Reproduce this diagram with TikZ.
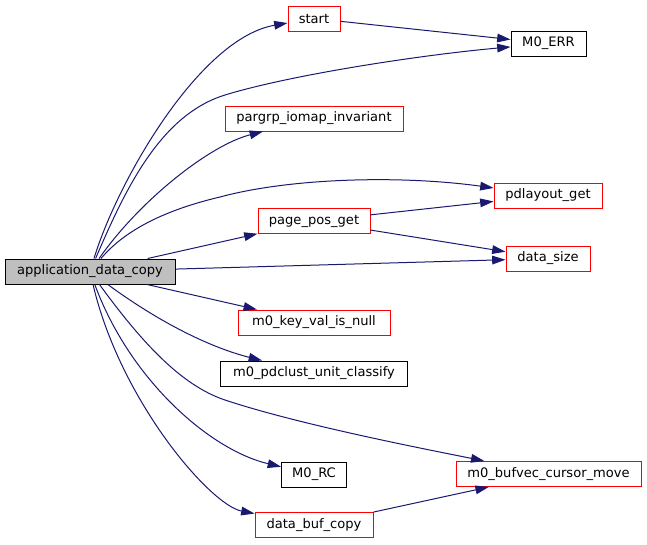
\documentclass[tikz,border=0pt]{standalone}
\usepackage{fontspec}
\setmainfont{DejaVu Sans}
\usetikzlibrary{arrows.meta}
\definecolor{edgeblue}{HTML}{191970}
\definecolor{mainfill}{HTML}{BFBFBF}
\tikzset{
  bw/.style={minimum width=#1*0.75pt},
  fn/.style={draw=red, line width=0.75pt, inner sep=0pt, minimum height=18.75pt,
    font=\fontsize{9.8}{12}\selectfont, anchor=center, fill=white},
  bn/.style={fn, draw=black},
  mn/.style={fn, draw=black, fill=mainfill},
  ed/.style={draw=edgeblue, line width=0.75pt, -{Triangle[length=10pt,width=6.5pt]}},
}
\begin{document}
\begin{tikzpicture}[x=0.75pt,y=-0.75pt]
\useasboundingbox (0,0) rectangle (647,544);
\node[mn,bw=170] (app) at (90,271.5) {application\_data\_copy};
\node[fn,bw=52] (start) at (314,18.5) {start};
\node[bn,bw=75] (err) at (548.5,43.5) {M0\_ERR};
\node[fn,bw=178] (pargrp) at (314,118.5) {pargrp\_iomap\_invariant};
\node[fn,bw=108] (pdlayout) at (548,195.5) {pdlayout\_get};
\node[fn,bw=112] (pagepos) at (314,221) {page\_pos\_get};
\node[fn,bw=84] (datasize) at (548,258.5) {data\_size};
\node[fn,bw=152] (keyval) at (314,322.5) {m0\_key\_val\_is\_null};
\node[bn,bw=187] (pdclust) at (314,373.5) {m0\_pdclust\_unit\_classify};
\node[bn,bw=65] (rc) at (314,474.5) {M0\_RC};
\node[fn,bw=185] (bufvec) at (548.5,474) {m0\_bufvec\_cursor\_move};
\node[fn,bw=118] (databuf) at (314,525) {data\_buf\_copy};

\draw[ed] (app) .. controls (118,180) and (200,38) .. (start);
\draw[ed] (app) .. controls (125,190) and (160,115) .. (225,95) .. controls (290,75) and (420,55) .. (err);
\draw[ed] (app) .. controls (140,200) and (210,145) .. (pargrp);
\draw[ed] (app) .. controls (125,230) and (165,210) .. (220,197) .. controls (290,178) and (400,175) .. (pdlayout);
\draw[ed] (app) -- (pagepos);
\draw[ed] (app) -- (datasize);
\draw[ed] (app) -- (keyval);
\draw[ed] (app) .. controls (170,330) and (220,350) .. (pdclust);
\draw[ed] (app) .. controls (140,340) and (180,385) .. (225,400) .. controls (300,425) and (430,450) .. (bufvec);
\draw[ed] (app) .. controls (130,380) and (210,450) .. (rc);
\draw[ed] (app) .. controls (120,400) and (210,505) .. (databuf);
\draw[ed] (start) -- (err);
\draw[ed] (pagepos) -- (pdlayout);
\draw[ed] (pagepos) -- (datasize);
\draw[ed] (databuf) -- (bufvec);
\end{tikzpicture}
\end{document}
